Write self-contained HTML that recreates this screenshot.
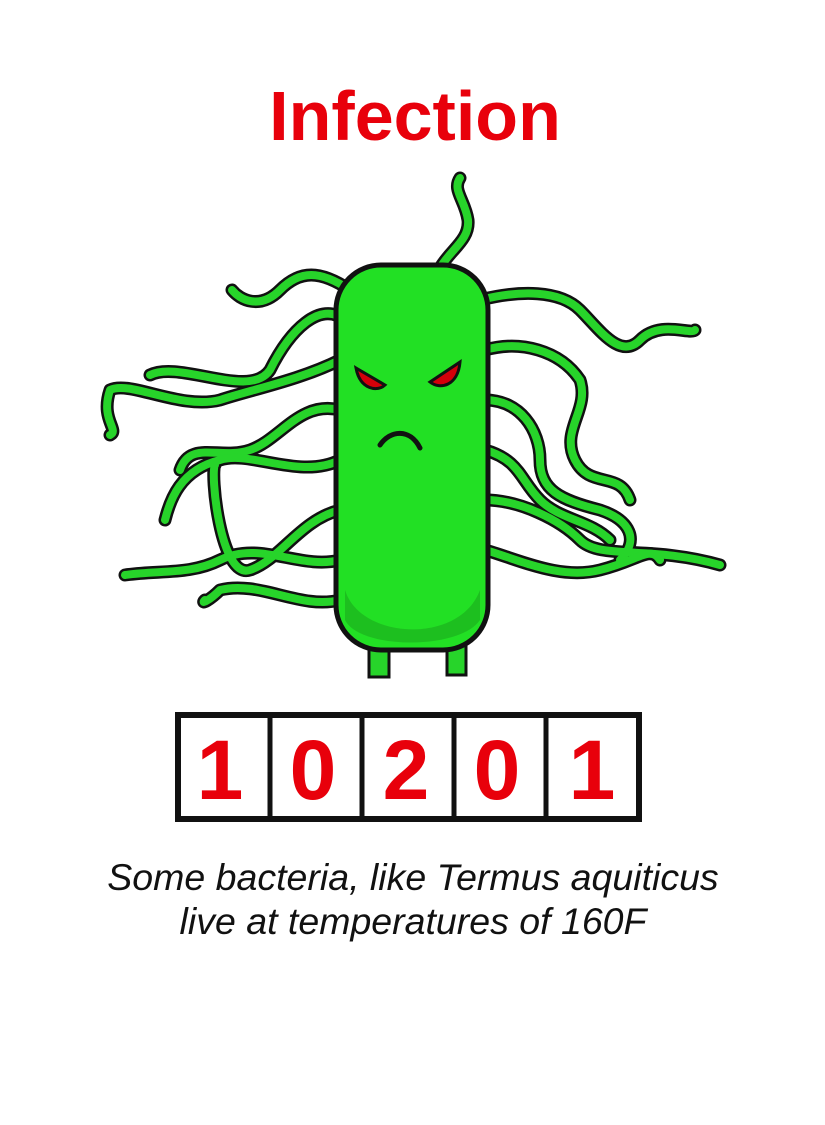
<!DOCTYPE html>
<html><head><meta charset="utf-8"><style>
html,body{margin:0;padding:0;background:#fff;}
body{width:825px;height:1125px;overflow:hidden;position:relative;font-family:"Liberation Sans",sans-serif;}
svg{position:absolute;left:0;top:0;}
</style></head><body>
<svg width="825" height="1125" viewBox="0 0 825 1125">
<text x="415" y="140" text-anchor="middle" font-family="Liberation Sans, sans-serif" font-weight="bold" font-size="70" fill="#e8000b">Infection</text>
<g fill="none" stroke-linecap="round" stroke-linejoin="round">
<g stroke="#111" stroke-width="13">
<path d="M440 268 C450 250 470 240 468 220 C465 200 452 190 460 178"/>
<path d="M350 290 C320 270 300 270 280 290 C260 310 240 300 232 290"/>
<path d="M345 320 C320 300 290 330 270 370 C250 400 180 360 150 375"/>
<path d="M340 360 C300 380 250 390 220 400 C180 410 130 380 110 390 C100 420 120 430 110 435"/>
<path d="M340 410 C300 400 280 440 250 450 C220 460 190 440 180 470"/>
<path d="M340 460 C300 480 250 450 220 460 C180 470 170 500 165 520"/>
<path d="M340 510 C300 520 280 560 250 570 C220 580 210 470 215 465"/>
<path d="M340 560 C300 570 260 540 220 560 C190 575 160 570 125 575"/>
<path d="M340 600 C300 610 260 580 220 590 C210 600 200 605 205 600"/>
<path d="M480 300 C520 290 560 290 580 310 C600 330 620 360 640 340 C660 320 690 335 695 330"/>
<path d="M485 350 C520 340 560 350 580 380 C590 410 560 430 575 460 C590 490 620 470 630 500"/>
<path d="M485 400 C520 400 540 430 540 460 C540 490 560 500 600 510 C630 520 640 540 620 560"/>
<path d="M485 450 C520 460 520 480 540 500 C560 520 590 520 610 540"/>
<path d="M485 500 C520 500 560 520 580 540 C600 560 650 545 720 565"/>
<path d="M485 550 C520 560 560 580 600 570 C640 560 650 545 660 560"/>
</g>
<g stroke="#27d42a" stroke-width="8">
<path d="M440 268 C450 250 470 240 468 220 C465 200 452 190 460 178"/>
<path d="M350 290 C320 270 300 270 280 290 C260 310 240 300 232 290"/>
<path d="M345 320 C320 300 290 330 270 370 C250 400 180 360 150 375"/>
<path d="M340 360 C300 380 250 390 220 400 C180 410 130 380 110 390 C100 420 120 430 110 435"/>
<path d="M340 410 C300 400 280 440 250 450 C220 460 190 440 180 470"/>
<path d="M340 460 C300 480 250 450 220 460 C180 470 170 500 165 520"/>
<path d="M340 510 C300 520 280 560 250 570 C220 580 210 470 215 465"/>
<path d="M340 560 C300 570 260 540 220 560 C190 575 160 570 125 575"/>
<path d="M340 600 C300 610 260 580 220 590 C210 600 200 605 205 600"/>
<path d="M480 300 C520 290 560 290 580 310 C600 330 620 360 640 340 C660 320 690 335 695 330"/>
<path d="M485 350 C520 340 560 350 580 380 C590 410 560 430 575 460 C590 490 620 470 630 500"/>
<path d="M485 400 C520 400 540 430 540 460 C540 490 560 500 600 510 C630 520 640 540 620 560"/>
<path d="M485 450 C520 460 520 480 540 500 C560 520 590 520 610 540"/>
<path d="M485 500 C520 500 560 520 580 540 C600 560 650 545 720 565"/>
<path d="M485 550 C520 560 560 580 600 570 C640 560 650 545 660 560"/>
</g>
</g>
<g>
<rect x="369" y="635" width="20" height="42" fill="#27d42a" stroke="#111" stroke-width="3"/>
<rect x="447" y="635" width="19" height="40" fill="#27d42a" stroke="#111" stroke-width="3"/>
</g>
<rect x="336" y="265" width="152" height="385" rx="45" fill="#22e024" stroke="#111" stroke-width="5"/>
<path d="M345 590 C360 640 460 645 480 590 L480 620 C460 650 360 650 345 620 Z" fill="#1aa81c" opacity="0.6"/>
<g>
<path d="M356 368 L385 385 C378 392 360 390 356 368 Z" fill="#d4000a" stroke="#111" stroke-width="3"/>
<path d="M460 362 L430 382 C440 390 458 386 460 362 Z" fill="#d4000a" stroke="#111" stroke-width="3"/>
<path d="M380 445 C390 430 410 428 420 448" fill="none" stroke="#111" stroke-width="5" stroke-linecap="round"/>
</g>
<g>
<rect x="178" y="715" width="461" height="104" fill="#fff" stroke="#111" stroke-width="6"/>
<line x1="270" y1="715" x2="270" y2="819" stroke="#111" stroke-width="5"/>
<line x1="362" y1="715" x2="362" y2="819" stroke="#111" stroke-width="5"/>
<line x1="454" y1="715" x2="454" y2="819" stroke="#111" stroke-width="5"/>
<line x1="546" y1="715" x2="546" y2="819" stroke="#111" stroke-width="5"/>
<g font-family="Liberation Sans, sans-serif" font-weight="bold" font-size="84" fill="#e8000b" text-anchor="middle">
<text x="220" y="799">1</text>
<text x="313" y="799">0</text>
<text x="406" y="799">2</text>
<text x="497" y="799">0</text>
<text x="592" y="799">1</text>
</g>
</g>
<g font-family="Liberation Sans, sans-serif" font-style="italic" font-size="37.5" fill="#111" text-anchor="middle">
<text x="413" y="890">Some bacteria, like Termus aquiticus</text>
<text x="413" y="934">live at temperatures of 160F</text>
</g>
</svg>
</body></html>
